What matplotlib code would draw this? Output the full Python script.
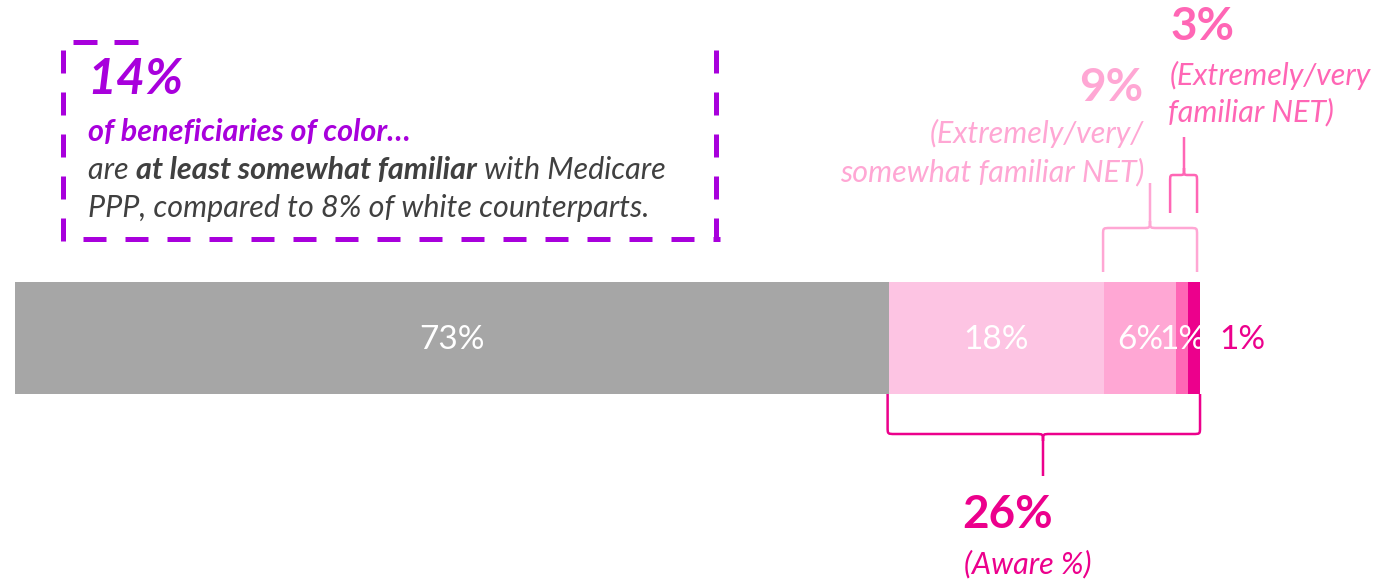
import matplotlib
matplotlib.use("Agg")
import matplotlib.pyplot as plt
from matplotlib.path import Path
from matplotlib.patches import PathPatch
import numpy as np

# Familiarity with Medicare PPP (beneficiaries of color)
segments = ["Not aware", "Aware, not familiar", "Somewhat familiar", "Very familiar", "Extremely familiar"]
values = [73, 18, 6, 1, 1]
seg_labels = ["73%", "18%", "6%", "1%", "1%"]
colors = ["#A6A6A6", "#FDC4E3", "#FFA7D4", "#FF66B5", "#EC008C"]

aware_total = "26%"
fam_net = "9%"
very_net = "3%"
callout_pct = "14%"

plt.rcParams['font.family'] = ['Lato', 'DejaVu Sans']

W, H = 1399, 583
fig = plt.figure(figsize=(W / 100, H / 100), dpi=100)
ax = fig.add_axes([0, 0, 1, 1])
px_per_unit = 11.97
x_left = 15
ax.set_xlim(-x_left / px_per_unit, (W - x_left) / px_per_unit)
ax.set_ylim(H, 0)
ax.axis("off")
renderer = fig.canvas.get_renderer()


def xd(px):
    return (px - x_left) / px_per_unit


bar_y, bar_h = 338, 112
lefts = np.concatenate([[0], np.cumsum(values)[:-1]])
ax.barh([bar_y] * len(values), values, left=lefts, height=bar_h, color=colors, linewidth=0)

label_fs = 24
for i, (l, v, lab) in enumerate(zip(lefts, values, seg_labels)):
    if i == len(values) - 1:
        ax.text(l + v + 1.6, bar_y + 2, lab, color="#EC008C", fontsize=label_fs,
                ha="left", va="center")
    else:
        ax.text(l + v / 2, bar_y + 2, lab, color="white", fontsize=label_fs,
                ha="center", va="center")

cum = np.cumsum(values)


def brace(x0, x1, xc, y_base, y_mid, y_tip, color, lw=1.8, rx=0.6, ry=7):
    s = 1 if y_mid > y_base else -1
    verts = [
        (x0, y_base), (x0, y_mid - s * ry),
        (x0, y_mid), (x0, y_mid), (x0 + rx, y_mid),
        (xc - rx, y_mid),
        (xc, y_mid), (xc, y_mid), (xc, y_mid + s * ry),
        (xc, y_tip),
        (xc, y_mid + s * ry),
        (xc, y_mid), (xc, y_mid), (xc + rx, y_mid),
        (x1 - rx, y_mid),
        (x1, y_mid), (x1, y_mid), (x1, y_mid - s * ry),
        (x1, y_base),
    ]
    codes = [Path.MOVETO, Path.LINETO,
             Path.CURVE4, Path.CURVE4, Path.CURVE4,
             Path.LINETO,
             Path.CURVE4, Path.CURVE4, Path.CURVE4,
             Path.LINETO,
             Path.MOVETO,
             Path.CURVE4, Path.CURVE4, Path.CURVE4,
             Path.LINETO,
             Path.CURVE4, Path.CURVE4, Path.CURVE4,
             Path.LINETO]
    ax.add_patch(PathPatch(Path(verts, codes), fill=False, edgecolor=color,
                           lw=lw, capstyle="butt", joinstyle="round"))


big_fs = 33
note_fs = 22

# Aware brace below the bar
brace(cum[0] - 0.1, cum[-1], xd(1043), 394, 434, 476, "#EC008C")
ax.text(xd(1008), 515, aware_total, color="#EC008C", fontsize=big_fs, fontweight="bold",
        ha="center", va="center")
ax.text(xd(1028), 564, "(Aware %)", color="#EC008C", fontsize=note_fs, style="italic",
        ha="center", va="center")

# Familiarity NET brace above the bar
brace(cum[1] - 0.1, cum[-1] - 0.25, xd(1150), 272, 228, 183, "#FFA7D4")
ax.text(xd(1143), 88, fam_net, color="#FFA7D4", fontsize=big_fs, fontweight="bold",
        ha="right", va="center")
ax.text(xd(1144), 133, "(Extremely/very/", color="#FFA7D4", fontsize=note_fs, style="italic",
        ha="right", va="center")
ax.text(xd(1144), 172, "somewhat familiar NET)", color="#FFA7D4", fontsize=note_fs,
        style="italic", ha="right", va="center")

# Extremely/very familiar NET brace
brace(cum[2] - 0.5, cum[-1] - 0.25, xd(1184), 213, 175, 137, "#FF66B5", rx=0.35)
ax.text(xd(1171), 27, very_net, color="#FF66B5", fontsize=big_fs, fontweight="bold",
        ha="left", va="center")
ax.text(xd(1170), 75, "(Extremely/very", color="#FF66B5", fontsize=note_fs, style="italic",
        ha="left", va="center")
ax.text(xd(1168), 112, "familiar NET)", color="#FF66B5", fontsize=note_fs, style="italic",
        ha="left", va="center")

# Dashed callout box
purple = "#A800DC"
box_lw = 3.6
dash_kw = dict(color=purple, lw=box_lw, dashes=(4.6, 3.8), solid_capstyle="butt",
               dash_capstyle="butt")
ax.plot([xd(63), xd(63)], [50, 243], **dash_kw)
ax.plot([xd(716), xd(716)], [50, 243], **dash_kw)
ax.plot([xd(83), xd(720)], [239, 239], **dash_kw)
ax.plot([xd(73), xd(97)], [42, 42], color=purple, lw=box_lw, solid_capstyle="butt")
ax.plot([xd(114), xd(138)], [42, 42], color=purple, lw=box_lw, solid_capstyle="butt")

ax.text(xd(87), 80, callout_pct, color=purple, fontsize=36, fontweight="bold",
        style="italic", ha="left", va="center")
ax.text(xd(88), 132, "of beneficiaries of color…", color=purple, fontsize=22,
        fontweight="bold", style="italic", ha="left", va="center")

dark = "#404040"
body_fs = 22


def text_width(s, **kw):
    t = ax.text(0, 0, s, fontsize=body_fs, style="italic", **kw)
    w = t.get_window_extent(renderer).width
    t.remove()
    return w


def run_text(x_px, y, pieces):
    """Draw consecutive text pieces (text, weight) on one baseline."""
    for s, weight in pieces:
        ax.text(xd(x_px), y, s, color=dark, fontsize=body_fs, style="italic",
                fontweight=weight, ha="left", va="center")
        space = text_width("a a", fontweight=weight) - text_width("aa", fontweight=weight)
        x_px += text_width(s.strip(), fontweight=weight)
        if s.endswith(" "):
            x_px += space


run_text(88, 170, [("are ", "normal"), ("at least somewhat familiar", "bold"),
                   (" with Medicare", "normal")])
ax.text(xd(88), 208, "PPP, compared to 8% of white counterparts.", color=dark,
        fontsize=body_fs, style="italic", ha="left", va="center")

fig.savefig("out.png", dpi=100)
